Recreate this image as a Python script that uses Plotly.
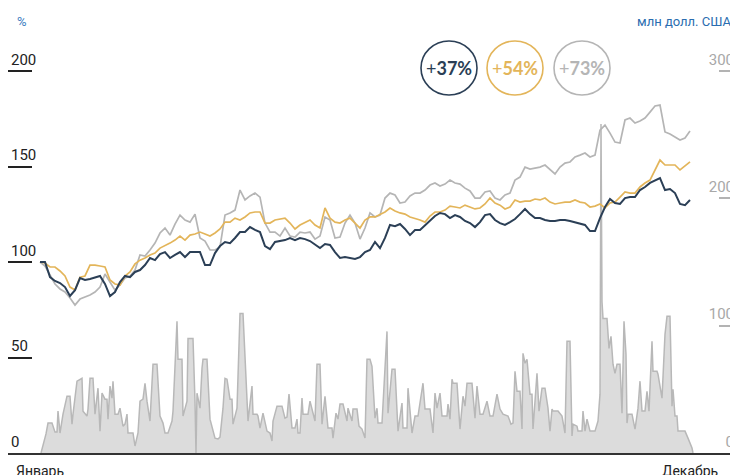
import plotly.graph_objects as go

# ---------------- data ----------------
# price indices (%), sampled at regular time steps from January to December
navy = [100, 100, 92.1, 90.1, 89.0, 86.9, 82.2, 85.3, 91.6, 90.6,
        91.1, 92.1, 92.7, 88.5, 82.2, 84.3, 89.5, 92.7, 92.1, 94.8,
        95.8, 98.4, 102.1, 101.0, 104.2, 105.2, 102.1, 103.7, 105.2, 102.6,
        105.2, 105.2, 105.2, 98.4, 98.4, 104.7, 108.4, 110.5, 109.9, 112.6,
        115.7, 115.7, 118.3, 116.8, 115.7, 108.4, 106.8, 110.5, 111.0, 111.5,
        112.6, 111.5, 112.6, 112.0, 111.0, 108.9, 107.3, 109.4, 108.9, 105.2,
        102.1, 102.6, 102.1, 101.6, 102.6, 105.2, 106.3, 110.5, 107.3, 112.6,
        119.4, 118.8, 119.9, 117.3, 114.1, 116.8, 116.8, 119.4, 122.0, 124.1,
        125.7, 125.1, 123.0, 124.6, 123.6, 121.5, 120.4, 118.3, 120.9, 124.6,
        125.1, 122.0, 120.4, 119.4, 120.9, 122.5, 125.1, 127.8, 125.1, 123.0,
        123.0, 122.0, 121.5, 121.5, 122.0, 122.0, 121.5, 120.9, 120.4, 119.4,
        116.2, 116.2, 123.0, 128.8, 133.0, 130.9, 130.4, 133.5, 134.0, 134.0,
        137.7, 139.3, 141.4, 142.9, 144.0, 137.7, 138.2, 136.1, 130.4, 129.8, 132.5]

gold = [100, 99.5, 97.4, 97.4, 95.3, 92.7, 86.9, 85.3, 92.1, 92.7,
        98.4, 98.4, 97.9, 97.4, 90.6, 88.5, 88.0, 92.7, 94.8, 99.0,
        101.0, 102.1, 103.7, 104.7, 107.3, 108.4, 109.9, 111.5, 113.6, 111.5,
        114.1, 114.7, 115.7, 114.7, 113.6, 115.2, 117.3, 120.9, 120.9, 123.0,
        122.0, 123.6, 125.7, 126.2, 126.2, 120.4, 120.4, 122.0, 122.5, 123.0,
        120.4, 117.3, 119.4, 120.9, 122.0, 119.4, 117.8, 128.3, 123.0, 120.9,
        120.4, 122.0, 123.0, 120.4, 117.8, 122.0, 123.6, 123.6, 125.1, 126.2,
        128.3, 126.7, 125.7, 125.1, 123.6, 123.0, 122.0, 120.9, 124.1, 126.2,
        126.2, 127.2, 129.3, 128.8, 128.3, 129.8, 128.8, 127.8, 128.3, 130.4,
        133.5, 130.9, 129.8, 127.8, 128.8, 132.5, 131.4, 131.9, 131.9, 133.0,
        132.5, 133.5, 131.4, 130.4, 130.9, 131.4, 131.4, 132.5, 131.4, 130.9,
        128.8, 129.3, 130.4, 128.3, 130.9, 131.4, 134.0, 136.7, 136.1, 136.1,
        139.3, 141.4, 142.9, 148.2, 153.4, 150.8, 150.8, 150.8, 148.2, 150.3, 152.4]

gray = [100, 97.9, 93.2, 88.5, 85.9, 84.3, 81.2, 77.5, 80.6, 81.7,
        82.7, 84.3, 86.9, 93.7, 89.5, 85.3, 88.0, 91.6, 92.7, 95.8,
        103.7, 103.1, 106.3, 109.9, 115.2, 117.8, 114.1, 119.9, 124.6, 122.0,
        120.9, 125.1, 112.6, 111.0, 106.3, 106.3, 107.9, 124.6, 125.7, 127.2,
        137.7, 132.5, 134.6, 136.1, 134.0, 120.4, 115.7, 115.7, 113.6, 117.8,
        113.6, 113.1, 115.7, 115.2, 115.7, 112.0, 113.6, 123.6, 122.0, 112.6,
        113.1, 120.4, 124.6, 120.4, 112.0, 117.8, 125.7, 123.6, 124.6, 133.5,
        136.1, 135.1, 130.9, 131.4, 134.6, 136.1, 136.1, 137.7, 140.3, 141.4,
        139.8, 140.8, 142.9, 141.4, 140.8, 138.7, 137.2, 133.5, 133.5, 136.7,
        137.2, 133.5, 132.5, 135.1, 136.1, 142.9, 144.5, 149.7, 148.7, 149.2,
        149.7, 150.8, 148.2, 146.1, 149.7, 151.8, 152.4, 155.0, 156.0, 157.1,
        155.0, 156.0, 169.1, 171.7, 167.5, 162.8, 162.3, 174.4, 175.4, 172.8,
        173.8, 175.4, 178.5, 181.7, 182.2, 168.1, 167.0, 165.5, 163.9, 164.9, 168.6]

t_lines = list(range(len(navy)))

# trading volume, млн долл. США (time index on the same scale as the lines)
vol_t = [0.2, 1.2, 1.6, 2.4, 3.0, 3.4, 3.6, 4.0, 4.6, 5.4,
         6.0, 6.4, 6.6, 7.4, 8.4, 8.6, 9.4, 9.6, 10.0, 10.6,
         11.0, 11.6, 12.0, 12.4, 13.0, 13.4, 13.6, 14.0, 14.4, 14.6,
         15.0, 15.6, 16.0, 16.6, 17.0, 17.4, 17.6, 18.6, 19.0, 19.6,
         20.0, 20.6, 21.0, 21.4, 22.0, 22.6, 23.4, 24.0, 24.6, 25.0,
         25.6, 26.4, 26.6, 27.4, 27.6, 28.4, 28.6, 29.4, 29.6, 30.6,
         31.0, 31.2, 31.4, 32.0, 32.4, 32.6, 33.4, 34.0, 35.0, 35.6,
         36.0, 36.6, 37.0, 37.4, 38.0, 38.4, 38.6, 39.4, 40.0, 40.6,
         41.6, 42.4, 42.6, 43.4, 43.6, 44.0, 44.6, 45.4, 46.0, 46.4,
         46.6, 47.4, 48.4, 49.0, 49.4, 49.8, 50.4, 51.0, 51.4, 51.6,
         52.0, 52.4, 52.6, 53.6, 54.0, 54.6, 55.0, 55.4, 56.0, 56.4,
         57.0, 57.6, 58.4, 58.6, 59.2, 59.6, 60.0, 60.6, 61.4, 61.6,
         62.4, 62.6, 63.4, 63.8, 64.4, 65.0, 65.4, 66.0, 66.4, 67.0,
         67.4, 67.6, 68.4, 69.4, 69.6, 70.4, 71.0, 71.6, 72.4, 72.6,
         73.4, 73.6, 74.4, 75.0, 75.6, 76.6, 77.0, 78.0, 78.6, 79.0,
         79.4, 80.0, 80.4, 81.4, 81.6, 82.0, 82.4, 82.6, 83.4, 84.0,
         84.6, 85.0, 85.4, 86.4, 87.0, 87.4, 88.0, 88.6, 89.4, 90.0,
         90.6, 91.4, 92.0, 92.6, 93.6, 94.2, 94.6, 95.0, 95.4, 96.0,
         96.4, 96.6, 97.0, 97.4, 98.0, 98.4, 98.6, 99.4, 99.8, 100.4,
         101.0, 101.6, 102.0, 102.4, 102.6, 103.6, 104.4, 105.0, 105.4, 106.0,
         106.4, 106.6, 107.4, 107.6, 108.4, 108.6, 109.0, 109.4, 110.0, 111.0,
         111.4, 111.6, 112.0, 112.2, 112.4, 112.6, 113.4, 113.8, 114.2, 114.6,
         115.0, 115.4, 116.0, 116.4, 116.8, 117.2, 117.4, 117.6, 118.4, 119.0,
         119.6, 120.0, 120.4, 121.0, 121.4, 121.8, 122.4, 122.6, 123.4, 123.6,
         124.4, 125.0, 125.4, 126.0, 126.4, 126.6, 127.0, 127.4, 127.6, 129.0,
         129.6, 130.4, 130.6]
vol_val = [0, 15, 23.5, 23.5, 16.4, 16.4, 32.9, 15.7, 30.5, 44.6,
           44.6, 22.7, 30.5, 56.4, 58.7, 32.9, 29.0, 34.5, 58.7, 58.7,
           30.5, 50.9, 17.2, 47.0, 42.3, 42.3, 26.6, 52.5, 43.1, 56.4,
           30.5, 30.5, 35.2, 21.1, 22.7, 30.5, 15.7, 15.7, 5.5, 15.7,
           40.7, 42.3, 54.8, 40.7, 25.1, 69.7, 69.7, 29.0, 23.5, 15.7,
           15.7, 25.1, 32.9, 103.4, 73.6, 73.6, 29.0, 40.7, 90.0, 90.0,
           40.7, 0, 47.0, 35.2, 66.6, 73.6, 73.6, 26.6, 11.7, 11.0,
           12.5, 35.2, 58.7, 58.0, 42.3, 42.3, 22.7, 35.2, 109.6, 109.6,
           25.1, 52.5, 30.5, 30.5, 29.0, 19.6, 31.3, 17.2, 15.7, 9.4,
           25.1, 36.8, 36.8, 27.4, 28.2, 46.2, 19.6, 19.6, 26.6, 15.7,
           15.7, 43.1, 30.5, 30.5, 40.7, 31.3, 25.1, 69.7, 69.7, 22.7,
           44.6, 19.6, 19.6, 11.7, 31.3, 26.6, 38.4, 38.4, 25.1, 35.2,
           25.1, 34.5, 34.5, 21.1, 18.8, 11.7, 73.6, 73.6, 68.1, 27.4,
           35.2, 23.5, 23.5, 95.5, 31.3, 65.8, 65.8, 17.2, 39.2, 19.6,
           19.6, 50.9, 15.7, 29.0, 29.0, 54.8, 34.5, 34.5, 15.7, 47.0,
           35.2, 47.0, 29.0, 29.0, 38.4, 26.6, 57.9, 54.8, 54.8, 18.8,
           44.6, 36.8, 54.8, 54.8, 27.4, 52.5, 30.5, 30.5, 40.7, 29.0,
           29.0, 46.2, 34.5, 30.5, 29.0, 22.7, 23.5, 64.2, 48.5, 48.5,
           18.8, 78.3, 70.5, 73.6, 46.2, 46.2, 18.8, 62.6, 32.9, 50.9,
           50.9, 35.2, 17.2, 34.5, 32.9, 32.9, 29.0, 15.7, 87.7, 87.7,
           13.3, 22.7, 21.1, 17.2, 17.2, 32.9, 17.2, 26.6, 17.2, 17.2,
           23.5, 25.1, 46.2, 258.4, 119.0, 105.7, 105.7, 82.2, 91.6, 69.7,
           62.6, 69.7, 69.7, 31.3, 103.4, 77.5, 23.5, 30.5, 30.5, 18.8,
           35.2, 56.4, 32.9, 32.9, 48.5, 32.9, 87.7, 64.2, 64.2, 61.9,
           43.1, 93.2, 107.3, 107.3, 36.8, 50.1, 29.0, 29.0, 17.2, 17.2,
           11.7, 3.9, 0]

x_tick_pos = [0, 130]
x_tick_text = ["Январь", "Декабрь"]
pct_ticks = [0, 50, 100, 150, 200]
vol_ticks = [0, 100, 200, 300]
badges = ["+37%", "+54%", "+73%"]

# ---------------- style ----------------
NAVY, GOLD, GRAY = "#2b3f56", "#e3b55a", "#b5b5b5"
OFF = 8                    # default page margin of the html body
W, H = 738 - OFF, 475 - OFF
L, R, T, B = 0, 1, 22, 22
PW, PH = W - L - R, H - T - B


def px(x):
    """page pixel x -> paper x"""
    return (x - OFF - L) / PW


def py(y):
    """page pixel y -> paper y"""
    return (H - B - (y - OFF)) / PH


fig = go.Figure()
fig.add_trace(go.Scatter(x=vol_t, y=vol_val, yaxis="y", mode="lines",
                         fill="tozeroy", fillcolor="#dcdcdc",
                         line=dict(color="#b8b8b8", width=1.5),
                         hoverinfo="skip", showlegend=False))
for vals, col, w in [(gray, GRAY, 1.7), (gold, GOLD, 1.7), (navy, NAVY, 2)]:
    fig.add_trace(go.Scatter(x=t_lines, y=vals, yaxis="y2", mode="lines",
                             line=dict(color=col, width=w),
                             hoverinfo="skip", showlegend=False))

fig.update_layout(
    width=W, height=H,
    margin=dict(l=L, r=R, t=T, b=B, autoexpand=False),
    paper_bgcolor="white", plot_bgcolor="white",
    font=dict(family="Roboto", color="#222"),
    xaxis=dict(range=[-6.4, 139.4], showgrid=False, zeroline=False,
               automargin=False,
               showline=True, linecolor="#333", linewidth=1.5,
               tickvals=x_tick_pos, ticktext=x_tick_text, ticks="",
               tickfont=dict(size=14, color="#222"), ticklabelstandoff=4),
    yaxis=dict(side="right", range=[0, 332.2], showgrid=False, zeroline=False,
               automargin=False,
               showline=False, tickvals=vol_ticks, ticks="inside", ticklen=18,
               tickwidth=2, tickcolor="#b3b3b3", ticklabelposition="inside top",
               tickfont=dict(size=15, color="#a8a8a8")),
    yaxis2=dict(side="left", overlaying="y", range=[0, 221.5], showgrid=False,
                zeroline=False, showline=False, tickvals=pct_ticks,
                automargin=False,
                ticks="inside", ticklen=24, tickwidth=2, tickcolor="#222",
                ticklabelposition="inside top",
                tickfont=dict(size=15, color="#222")),
)

annotations = [
    dict(text="%", x=px(22), y=py(22), xref="paper", yref="paper",
         xanchor="center", yanchor="middle",
         showarrow=False, font=dict(size=13, color="#3d7dc1")),
    dict(text="млн долл. США", x=px(734), y=py(22), xref="paper", yref="paper",
         xanchor="right", yanchor="middle", showarrow=False,
         font=dict(size=13, color="#2a6db0")),
]
centers = [449, 515, 582]
cols = [NAVY, GOLD, GRAY]
shapes = []
for cx, col, txt in zip(centers, cols, badges):
    shapes.append(dict(type="circle", xref="paper", yref="paper",
                       x0=px(cx - 28), x1=px(cx + 28), y0=py(95), y1=py(41),
                       line=dict(color=col, width=1.6)))
    annotations.append(dict(text="+<b>" + txt[1:] + "</b>", x=px(cx), y=py(68),
                            xref="paper", yref="paper", xanchor="center",
                            yanchor="middle", showarrow=False,
                            font=dict(size=18, color=col, family="Lato")))
fig.update_layout(annotations=annotations, shapes=shapes)

fig.write_html("out.html")
